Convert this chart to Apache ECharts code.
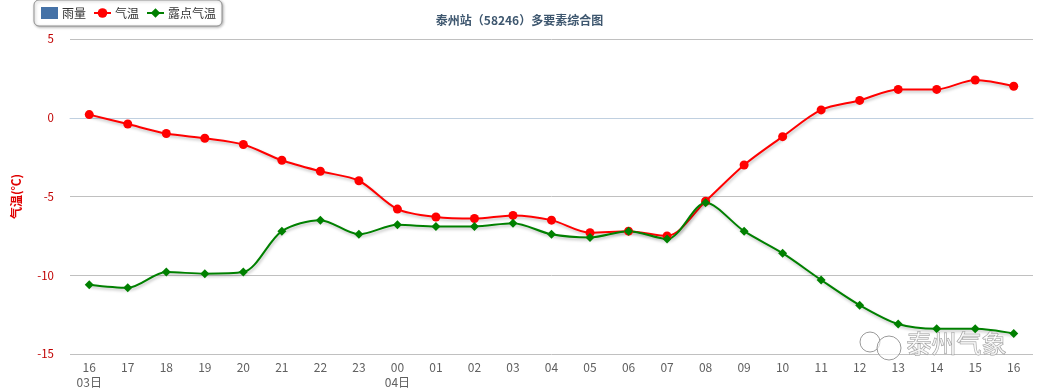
<!DOCTYPE html>
<html>
<head>
<meta charset="utf-8">
<script src="https://cdn.jsdelivr.net/npm/echarts@6/dist/echarts.min.js"></script>
<style>html,body{margin:0;padding:0;background:#fff;}#c{width:1039px;height:390px;}</style>
</head>
<body>
<div id="c"></div>
<script>
var categories = ['16\n03日','17','18','19','20','21','22','23','00\n04日','01','02','03','04','05','06','07','08','09','10','11','12','13','14','15','16'];
var rain = [];
var temperature = [0.2,-0.4,-1.0,-1.3,-1.7,-2.7,-3.4,-4.0,-5.8,-6.3,-6.4,-6.2,-6.5,-7.3,-7.2,-7.5,-5.3,-3.0,-1.2,0.5,1.1,1.8,1.8,2.4,2.0];
var dewPoint = [-10.6,-10.8,-9.8,-9.9,-9.8,-7.2,-6.5,-7.4,-6.8,-6.9,-6.9,-6.7,-7.4,-7.6,-7.2,-7.7,-5.4,-7.2,-8.6,-10.3,-11.9,-13.1,-13.4,-13.4,-13.7];
var yTicks = {min:-15, max:5, interval:5};

var font = '"Noto Sans CJK SC","Noto Sans",sans-serif';
var chart = echarts.init(document.getElementById('c'));
var lineShadow = {shadowColor:'rgba(0,0,0,0.25)', shadowBlur:3, shadowOffsetX:1, shadowOffsetY:2};
chart.setOption({
  animation:false,
  textStyle:{fontFamily:font},
  title:{text:'泰州站（58246）多要素综合图', left:'center', top:9,
    textStyle:{fontSize:12, fontWeight:'bold', color:'#3E576F', fontFamily:font}},
  legend:{left:34, top:0, padding:[7,6,7,7], itemGap:7, itemWidth:17, itemHeight:12,
    backgroundColor:'#fff', borderColor:'#909090', borderWidth:1, borderRadius:5,
    shadowColor:'rgba(0,0,0,0.3)', shadowBlur:3, shadowOffsetX:1, shadowOffsetY:1,
    textStyle:{fontSize:12, color:'#333', fontFamily:font, padding:[0,0,0,-1]},
    data:[{name:'雨量', icon:'rect'}, {name:'气温'}, {name:'露点气温'}]},
  grid:{left:70, right:6, top:39, bottom:34, containLabel:false},
  xAxis:{type:'category', data:categories, boundaryGap:true,
    axisLine:{lineStyle:{color:'#C0D0E0'}},
    axisTick:{alignWithLabel:true, length:5, lineStyle:{color:'#C0D0E0'}},
    axisLabel:{color:'#606060', fontSize:12, lineHeight:15, margin:6, interval:0, fontFamily:font}},
  yAxis:{type:'value', min:yTicks.min, max:yTicks.max, interval:yTicks.interval,
    name:'气温(℃)', nameLocation:'middle', nameGap:48, nameRotate:90,
    nameTextStyle:{color:'#E00000', fontWeight:'bold', fontSize:12, fontFamily:font},
    axisLine:{show:false}, axisTick:{show:false},
    axisLabel:{color:'#C00000', fontSize:11.5, margin:16, fontFamily:font},
    splitLine:{lineStyle:{color:'#C0C0C0'}}},
  series:[
    {name:'雨量', type:'bar', data:rain, itemStyle:{color:'#4572A7'}},
    {name:'气温', type:'line', data:temperature, smooth:0.3, symbol:'circle', symbolSize:9,
      itemStyle:{color:'#FF0000'}, lineStyle:Object.assign({color:'#FF0000', width:2}, lineShadow)},
    {name:'露点气温', type:'line', data:dewPoint, smooth:0.3, symbol:'diamond', symbolSize:9,
      itemStyle:{color:'#008000'}, lineStyle:Object.assign({color:'#008000', width:2}, lineShadow)}
  ],
  graphic:[
    {type:'circle', shape:{cx:870, cy:342, r:10}, style:{fill:'rgba(255,255,255,0.6)', stroke:'#999', lineWidth:1}, z:100},
    {type:'circle', shape:{cx:889, cy:348, r:12}, style:{fill:'rgba(255,255,255,0.6)', stroke:'#999', lineWidth:1}, z:100},
    {type:'text', left:906, top:330, z:100,
      style:{text:'泰州气象', fontSize:25, fontFamily:font, fill:'rgba(255,255,255,0.7)', stroke:'#999', lineWidth:1}}
  ]
});
</script>
</body>
</html>
